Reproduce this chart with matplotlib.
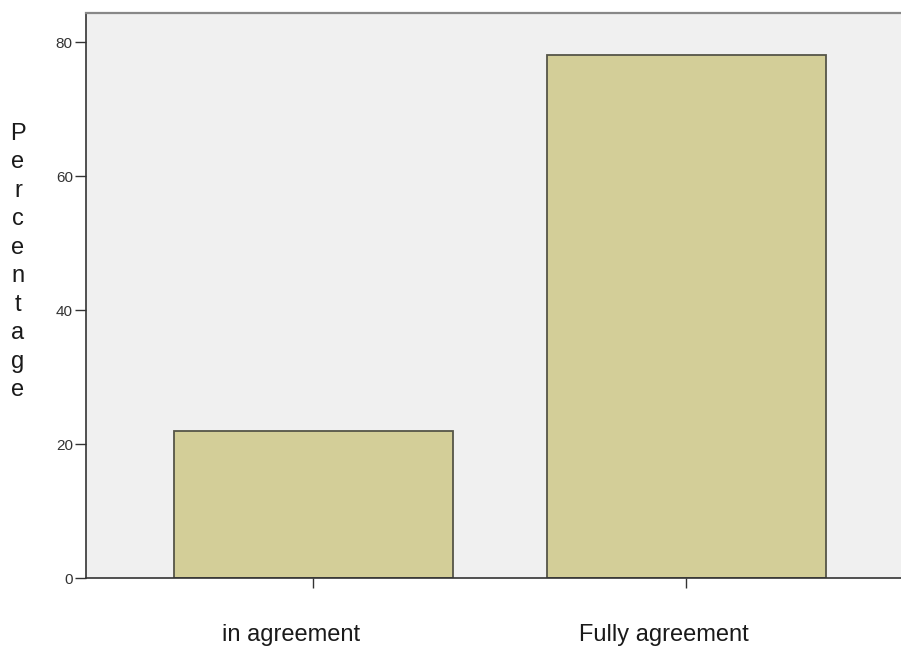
import matplotlib
matplotlib.use("Agg")
import matplotlib.pyplot as plt

categories = ["in agreement", "Fully agreement"]
values = [22, 78]
yticks = [0, 20, 40, 60, 80]
ylabel = "Percentage"

plt.rcParams['font.family'] = ['Liberation Sans', 'DejaVu Sans']

W, H = 901, 647
fig = plt.figure(figsize=(W / 100, H / 100), dpi=100)
left, right, top, bottom = 86, 901, 13, 578
ax = fig.add_axes([left / W, 1 - bottom / H, (right - left) / W, (bottom - top) / H])
ax.set_facecolor('#F0F0F0')

x = list(range(len(categories)))
ax.bar(x, values, width=0.748, color='#D3CE98', edgecolor='#555548', linewidth=1.3, zorder=2)

ax.set_xlim(-0.6086, 1.576)
ax.set_ylim(0, 84.33)
ax.set_yticks(yticks)
ax.set_yticklabels([str(t) for t in yticks], fontsize=11, color='#333333')
ax.set_xticks(x)
ax.set_xticklabels([])
ax.tick_params(axis='y', direction='out', length=8, width=1.0, color='#333333', pad=1.5)
ax.tick_params(axis='x', direction='out', length=7, width=1.0, color='#333333')

for side in ['right']:
    ax.spines[side].set_visible(False)
ax.spines['top'].set_color('#888888')
ax.spines['top'].set_linewidth(1.6)
ax.spines['left'].set_color('#333333')
ax.spines['left'].set_linewidth(1.2)
ax.spines['bottom'].set_color('#333333')
ax.spines['bottom'].set_linewidth(1.2)

for i, c in enumerate(categories):
    ax.annotate(c, xy=(i, 0), xycoords=('data', 'axes fraction'),
                xytext=(-22 * 72 / 100, -(641 - 578) * 72 / 100), textcoords='offset points',
                ha='center', va='baseline', fontsize=17, color='#1a1a1a')

fig.text(18 / W, 1 - 262 / H, "\n".join(ylabel), ha='center', va='center',
         fontsize=17, linespacing=1.38, color='#1a1a1a')

fig.savefig('out.png', dpi=100)
